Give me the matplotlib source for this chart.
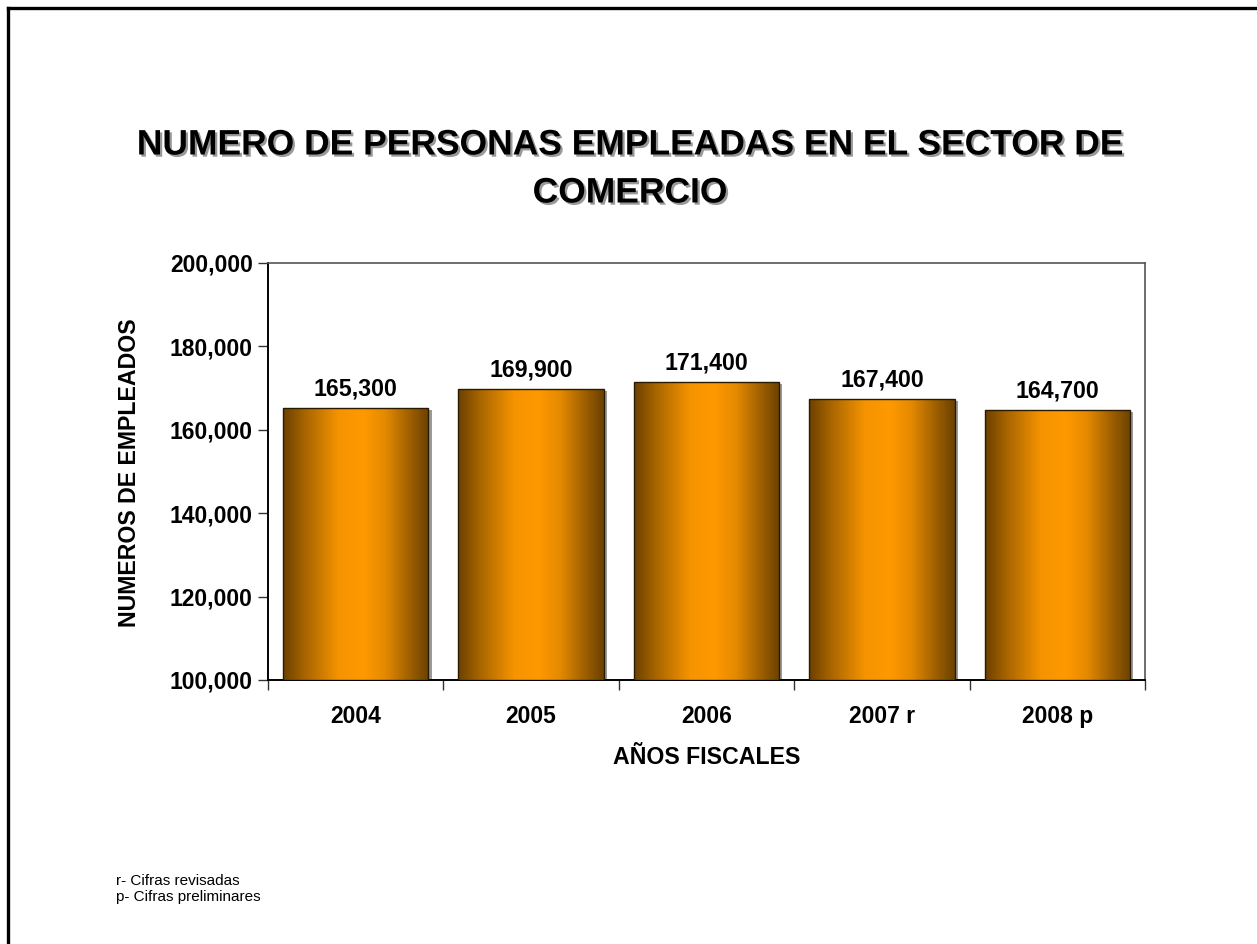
import matplotlib
matplotlib.use("Agg")
import matplotlib.pyplot as plt
import numpy as np
from matplotlib.colors import LinearSegmentedColormap
from matplotlib.lines import Line2D
import matplotlib.patheffects as pe

categories = ["2004", "2005", "2006", "2007 r", "2008 p"]
values = [165300, 169900, 171400, 167400, 164700]
y_ticks = [100000, 120000, 140000, 160000, 180000, 200000]
title_lines = ["NUMERO DE PERSONAS EMPLEADAS EN EL SECTOR DE", "COMERCIO"]
ylabel = "NUMEROS DE EMPLEADOS"
xlabel = "AÑOS FISCALES"
notes = ["r- Cifras revisadas", "p- Cifras preliminares"]

plt.rcParams['font.family'] = ['Liberation Sans', 'DejaVu Sans']

W, H = 1257, 944
fig = plt.figure(figsize=(W/100, H/100), dpi=100)
ax = fig.add_axes([268/W, 1-680/H, (1145-268)/W, (680-263)/H])

x = np.arange(len(categories))
width = 0.83
ymin, ymax = 100000, 200000

bars = ax.bar(x, np.array(values) - ymin, bottom=ymin, width=width,
              facecolor='#999999', edgecolor='none', zorder=2,
              path_effects=[pe.SimplePatchShadow(offset=(2.2, -1.5), shadow_rgbFace='#9a9a9a', alpha=1.0), pe.Normal()])

cmap = LinearSegmentedColormap.from_list("g", [
    (0.0, "#6b4100"), (0.15, "#a86500"), (0.38, "#f59300"), (0.55, "#ff9900"),
    (0.7, "#e58a00"), (0.88, "#9a5d00"), (1.0, "#6b4100")])
grad = np.linspace(0, 1, 256).reshape(1, -1)
for b in bars:
    x0 = b.get_x(); w = b.get_width(); h = b.get_height()
    im = ax.imshow(grad, cmap=cmap, aspect='auto',
                   extent=(x0, x0 + w, ymin, ymin + h), zorder=3,
                   interpolation='bilinear')
    im.set_clip_path(b)
    ax.add_patch(plt.Rectangle((x0, ymin), w, h, facecolor='none',
                               edgecolor='#2a1a00', linewidth=1.0, zorder=4))

for xi, v in zip(x, values):
    ax.text(xi, v + 1800, f"{v:,}", ha='center', va='bottom',
            fontsize=16.7, fontweight='bold', zorder=5)

ax.set_xlim(-0.5, len(categories) - 0.5)
ax.set_ylim(ymin, ymax)
ax.set_yticks(y_ticks)
ax.set_yticklabels([f"{t:,}" for t in y_ticks], fontsize=16.5, fontweight='bold')
ax.set_xticks(x)
ax.set_xticklabels(categories, fontsize=16.5, fontweight='bold')
ax.tick_params(axis='x', length=0, pad=18)
ax.set_xticks(np.arange(len(categories) + 1) - 0.5, minor=True)
ax.tick_params(axis='x', which='minor', length=7, color='#333333', width=1)
ax.tick_params(axis='y', length=7, color='#333333', width=1, pad=4)

for s in ['top', 'right']:
    ax.spines[s].set_color('#555555')
    ax.spines[s].set_linewidth(1.2)
for s in ['left', 'bottom']:
    ax.spines[s].set_color('black')
    ax.spines[s].set_linewidth(1.4)

ax.set_ylabel(ylabel, fontsize=16.7, fontweight='bold', va='center')
ax.yaxis.set_label_coords((130-268)/877, (680-473)/417)
ax.set_xlabel(xlabel, fontsize=16.7, fontweight='bold', va='center')
ax.xaxis.set_label_coords(0.5, (680-757)/417)

shadow = [pe.withSimplePatchShadow(offset=(1.6, -1.6), shadow_rgbFace='#999999', alpha=1.0)]
fig.text(630/W, 1-145/H, title_lines[0], ha='center', va='center', fontsize=25.5,
         fontweight='bold', path_effects=shadow)
fig.text(630/W, 1-193/H, title_lines[1], ha='center', va='center', fontsize=25.5,
         fontweight='bold', path_effects=shadow)

fig.text(116/W, 1-881/H, notes[0], ha='left', va='center', fontsize=11)
fig.text(116/W, 1-897/H, notes[1], ha='left', va='center', fontsize=11)

fig.add_artist(Line2D([8/W, 1], [1-8/H, 1-8/H], transform=fig.transFigure, color='black', linewidth=2.4))
fig.add_artist(Line2D([8/W, 8/W], [0, 1-8/H], transform=fig.transFigure, color='black', linewidth=2.4))

fig.savefig("out.png", dpi=100)
